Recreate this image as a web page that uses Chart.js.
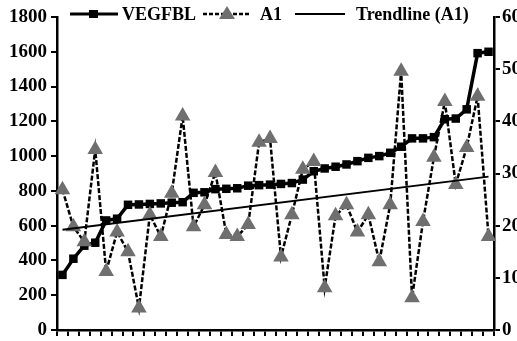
<!DOCTYPE html>
<html>
<head>
<meta charset="utf-8">
<script src="https://cdn.jsdelivr.net/npm/chart.js@4"></script>
<style>
  html, body { margin: 0; padding: 0; background: #fff; }
  #wrap { width: 517px; height: 341px; }
</style>
</head>
<body>
<div id="wrap"><canvas id="chart" width="517" height="341"></canvas></div>
<script>
// --- data ---
const samples = Array.from({ length: 40 }, (_, i) => String(i + 1));
const vegfbl = [317, 410, 485, 502, 630, 640, 720, 722, 725, 728,
                732, 735, 789, 792, 810, 812, 815, 830, 833, 836,
                840, 845, 865, 913, 929, 939, 952, 971, 990, 1000,
                1019, 1054, 1102, 1102, 1109, 1212, 1216, 1269, 1592, 1600];
const a1 = [26.9, 19.8, 16.9, 34.6, 11.2, 18.8, 15.0, 4.2, 22.1, 17.9,
            26.2, 41.0, 19.8, 24.0, 30.2, 18.3, 17.9, 20.2, 36.0, 36.7,
            14.0, 22.1, 30.8, 32.3, 8.1, 21.9, 24.0, 18.8, 22.1, 13.1,
            24.0, 49.6, 6.2, 20.8, 33.1, 43.8, 27.9, 35.0, 44.8, 17.9];
const trendA1 = [19.2, 29.4]; // trendline at first and last sample
const leftTicks = [0, 1800, 200];
const rightTicks = [0, 60, 10];

const FONT = "'Liberation Serif', 'Times New Roman', serif";
const GREY = '#6f6f6f';

const trendData = samples.map((_, i) =>
    i === 0 ? trendA1[0] : (i === samples.length - 1 ? trendA1[1] : null));

// legend drawn on top, like the excel one
const topLegend = {
    id: 'topLegend',
    afterDraw(chart) {
        const ctx = chart.ctx;
        const y = 14;
        ctx.save();
        ctx.strokeStyle = '#000';
        ctx.fillStyle = '#000';
        ctx.font = 'bold 18px ' + FONT;
        ctx.textBaseline = 'middle';

        // VEGFBL
        ctx.lineWidth = 3;
        ctx.beginPath(); ctx.moveTo(70, y); ctx.lineTo(118, y); ctx.stroke();
        ctx.fillRect(89, y - 4, 9, 8);
        ctx.fillText('VEGFBL', 122, y + 1);

        // A1
        ctx.lineWidth = 2.5;
        ctx.setLineDash([4, 2]);
        ctx.beginPath(); ctx.moveTo(203, y); ctx.lineTo(251, y); ctx.stroke();
        ctx.setLineDash([]);
        ctx.fillStyle = GREY;
        ctx.beginPath();
        ctx.moveTo(227, y - 8); ctx.lineTo(235, y + 5); ctx.lineTo(219, y + 5);
        ctx.closePath(); ctx.fill();
        ctx.fillStyle = '#000';
        ctx.fillText('A1', 260, y + 1);

        // Trendline
        ctx.lineWidth = 2;
        ctx.beginPath(); ctx.moveTo(295, y); ctx.lineTo(345, y); ctx.stroke();
        ctx.fillText('Trendline (A1)', 356, y + 1);
        ctx.restore();
    }
};

const axisGrid = { display: true, drawOnChartArea: false, drawTicks: true, tickLength: 6, color: '#000', lineWidth: 2 };
const tickFont = { family: FONT, size: 19, weight: 'bold', lineHeight: 1 };
const plain = v => String(v);
// fixed width, and no extra room asked for the end labels
const fitY = w => s => { s.width = w; s.paddingTop = 0; s.paddingBottom = 0; };

new Chart(document.getElementById('chart').getContext('2d'), {
    type: 'line',
    data: {
        labels: samples,
        datasets: [{
            label: 'Trendline (A1)',
            data: trendData,
            yAxisID: 'yR',
            borderColor: '#000',
            borderWidth: 2,
            pointRadius: 0,
            spanGaps: true,
            order: 0
        }, {
            label: 'A1',
            data: a1,
            yAxisID: 'yR',
            borderColor: '#000',
            borderWidth: 2.5,
            borderDash: [5, 2],
            pointStyle: 'triangle',
            pointRadius: 9,
            pointBackgroundColor: GREY,
            pointBorderColor: GREY,
            pointBorderWidth: 0,
            order: 1
        }, {
            label: 'VEGFBL',
            data: vegfbl,
            yAxisID: 'yL',
            borderColor: '#000',
            borderWidth: 3.5,
            pointStyle: 'rect',
            pointRadius: 6,
            pointBackgroundColor: '#000',
            pointBorderColor: '#000',
            pointBorderWidth: 0,
            order: 2
        }]
    },
    options: {
        responsive: false,
        devicePixelRatio: 1,
        animation: false,
        layout: { padding: { top: 17, left: 0, right: 0, bottom: 0 } },
        plugins: { legend: { display: false }, tooltip: { enabled: false } },
        scales: {
            x: {
                offset: true,
                grid: Object.assign({}, axisGrid, { offset: true }),
                border: { color: '#000', width: 2.5 },
                ticks: { display: false },
                afterFit: s => { s.height = 11; }
            },
            yL: {
                position: 'left',
                min: leftTicks[0], max: leftTicks[1],
                grid: axisGrid,
                border: { color: '#000', width: 2.5 },
                ticks: { stepSize: leftTicks[2], color: '#000', font: tickFont, padding: 4, callback: plain },
                afterFit: fitY(57)
            },
            yR: {
                position: 'right',
                min: rightTicks[0], max: rightTicks[1],
                grid: axisGrid,
                border: { color: '#000', width: 2.5 },
                ticks: { stepSize: rightTicks[2], color: '#000', font: tickFont, padding: 2, callback: plain },
                afterFit: fitY(23)
            }
        }
    },
    plugins: [topLegend]
});
</script>
</body>
</html>
